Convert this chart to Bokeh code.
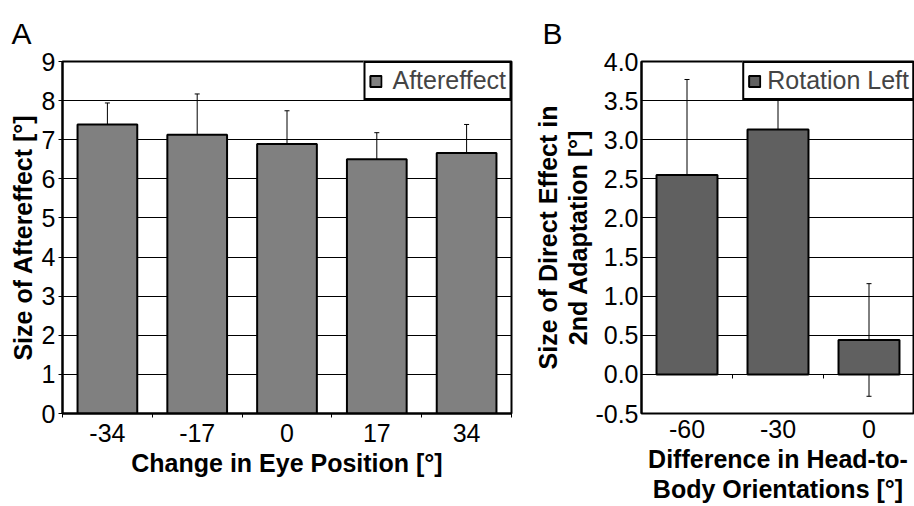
from bokeh.plotting import figure
from bokeh.layouts import row
from bokeh.models import (ColumnDataSource, FixedTicker, LinearAxis, Whisker,
                          TeeHead, NumeralTickFormatter)
from bokeh.embed import file_html
from bokeh.resources import INLINE

# Panel A: aftereffect size per change in eye position
eye_change = ["-34", "-17", "0", "17", "34"]
aftereffect = [7.39, 7.13, 6.89, 6.50, 6.66]
aftereffect_err = [0.55, 1.04, 0.85, 0.68, 0.73]
a_yticks = [0, 1, 2, 3, 4, 5, 6, 7, 8, 9]

# Panel B: direct effect in 2nd adaptation per head-to-body difference
head_body_diff = ["-60", "-30", "0"]
direct_effect = [2.55, 3.13, 0.44]
direct_effect_err = [1.22, 0.41, 0.72]
b_yticks = [-0.5, 0.0, 0.5, 1.0, 1.5, 2.0, 2.5, 3.0, 3.5, 4.0]

FONT = "Liberation Sans"
TICK_SIZE = "25px"
TITLE_SIZE = "25px"


def style_axis(ax):
    ax.major_label_text_font = FONT
    ax.major_label_text_font_size = TICK_SIZE
    ax.major_label_text_color = "black"
    ax.axis_label_text_font = FONT
    ax.axis_label_text_font_size = TITLE_SIZE
    ax.axis_label_text_font_style = "bold"
    ax.axis_label_text_color = "black"
    ax.axis_label_text_line_height = 1.1
    ax.axis_line_color = "black"
    ax.axis_line_width = 2
    ax.major_tick_line_color = "black"
    ax.minor_tick_line_color = "black"
    ax.major_tick_in = 0
    ax.minor_tick_in = 0
    ax.minor_tick_out = 0


def style_frame(p, panel_letter, letter_offset):
    p.background_fill_color = "white"
    p.border_fill_color = "white"
    p.outline_line_color = "black"
    p.outline_line_width = 2
    p.xgrid.grid_line_color = None
    p.ygrid.grid_line_color = "black"
    p.ygrid.grid_line_width = 1
    # panel letter shown as the figure title, pushed left of the frame
    p.title.text = panel_letter
    p.title.text_font = FONT
    p.title.text_font_size = "30px"
    p.title.text_font_style = "normal"
    p.title.text_color = "black"
    p.title.align = "left"
    p.title.vertical_align = "top"
    p.title.offset = letter_offset
    p.title.standoff = 20


def style_legend(p, standoff):
    lg = p.legend[0]
    lg.location = "top_right"
    lg.margin = 0
    lg.padding = 3
    lg.spacing = 0
    lg.border_line_color = "black"
    lg.border_line_width = 2
    lg.border_line_alpha = 1
    lg.background_fill_alpha = 1
    lg.label_text_font = FONT
    lg.label_text_font_size = TICK_SIZE
    lg.label_text_line_height = 1.0
    lg.label_standoff = standoff
    lg.glyph_width = 14
    lg.glyph_height = 14
    lg.label_height = 14


# ---------------- Panel A ----------------
xa = [i + 1 for i in range(len(eye_change))]
src_a = ColumnDataSource(dict(
    x=xa, top=aftereffect,
    upper=[v + e for v, e in zip(aftereffect, aftereffect_err)],
    lower=[v - e for v, e in zip(aftereffect, aftereffect_err)],
))

pa = figure(width=530, height=506, x_range=(0.5, len(xa) + 0.5), y_range=(0, 9),
            output_backend="svg", toolbar_location=None,
            min_border_left=62, min_border_right=19,
            min_border_top=61, min_border_bottom=93)
pa.vbar(x="x", top="top", width=0.665, source=src_a, fill_color="#808080",
        line_color="black", line_width=2, legend_label="Aftereffect")
pa.add_layout(Whisker(base="x", upper="upper", lower="lower", source=src_a,
                      line_color="black", line_width=1,
                      upper_head=TeeHead(size=5, line_color="black", line_width=1),
                      lower_head=TeeHead(size=5, line_color="black", line_width=1)))

ax_a = pa.below[0]
ay_a = pa.left[0]
style_axis(ax_a)
style_axis(ay_a)
ax_a.ticker = FixedTicker(ticks=xa, minor_ticks=[x - 0.5 for x in xa] + [xa[-1] + 0.5])
ax_a.major_label_overrides = {x: lab for x, lab in zip(xa, eye_change)}
ax_a.axis_label = "Change in Eye Position [°]"
ax_a.major_tick_out = 0
ax_a.minor_tick_out = 4
ax_a.major_label_standoff = 6
ax_a.axis_label_standoff = 4
ay_a.ticker = FixedTicker(ticks=a_yticks)
ay_a.axis_label = "Size of Aftereffect [°]"
ay_a.major_tick_out = 4
ay_a.major_label_standoff = 3
ay_a.axis_label_standoff = 2
style_frame(pa, "A", -51)
style_legend(pa, 10)

# ---------------- Panel B ----------------
xb = [i + 1 for i in range(len(head_body_diff))]
src_b = ColumnDataSource(dict(
    x=xb, top=direct_effect,
    upper=[v + e for v, e in zip(direct_effect, direct_effect_err)],
    lower=[v - e for v, e in zip(direct_effect, direct_effect_err)],
))

pb = figure(width=384, height=506, x_range=(0.5, len(xb) + 0.5), y_range=(-0.5, 4.0),
            output_backend="svg", toolbar_location=None,
            min_border_left=110, min_border_right=0,
            min_border_top=61, min_border_bottom=93)
pb.vbar(x="x", top="top", width=0.67, source=src_b, fill_color="#606060",
        line_color="black", line_width=2, legend_label="Rotation Left")
pb.add_layout(Whisker(base="x", upper="upper", lower="lower", source=src_b,
                      line_color="black", line_width=1,
                      upper_head=TeeHead(size=5, line_color="black", line_width=1),
                      lower_head=TeeHead(size=5, line_color="black", line_width=1)))

ax_b = pb.below[0]
ay_b = pb.left[0]
style_axis(ax_b)
style_axis(ay_b)
ax_b.ticker = FixedTicker(ticks=xb)
ax_b.major_label_overrides = {x: lab for x, lab in zip(xb, head_body_diff)}
ax_b.axis_label = "Difference in Head-to-\nBody Orientations [°]"
ax_b.axis_line_color = None
ax_b.major_tick_out = 0
ax_b.major_label_standoff = 6
ax_b.axis_label_standoff = 4
ay_b.ticker = FixedTicker(ticks=b_yticks)
ay_b.formatter = NumeralTickFormatter(format="0.0")
ay_b.axis_label = "Size of Direct Effect in\n2nd Adaptation [°]"
ay_b.major_tick_out = 0
ay_b.major_label_standoff = 3
ay_b.axis_label_standoff = 0

# axis along zero carrying the category boundary ticks
zero_axis = LinearAxis(fixed_location=0,
                       ticker=FixedTicker(ticks=[], minor_ticks=[x + 0.5 for x in xb[:-1]]),
                       major_label_text_color=None,
                       axis_line_color="black", axis_line_width=1,
                       major_tick_in=0, major_tick_out=0,
                       minor_tick_in=4, minor_tick_out=0,
                       minor_tick_line_color="black")
pb.add_layout(zero_axis, "above")
style_frame(pb, "B", -99)
style_legend(pb, 6)

layout = row(pa, pb)
open("out.html", "w").write(file_html(layout, INLINE))
